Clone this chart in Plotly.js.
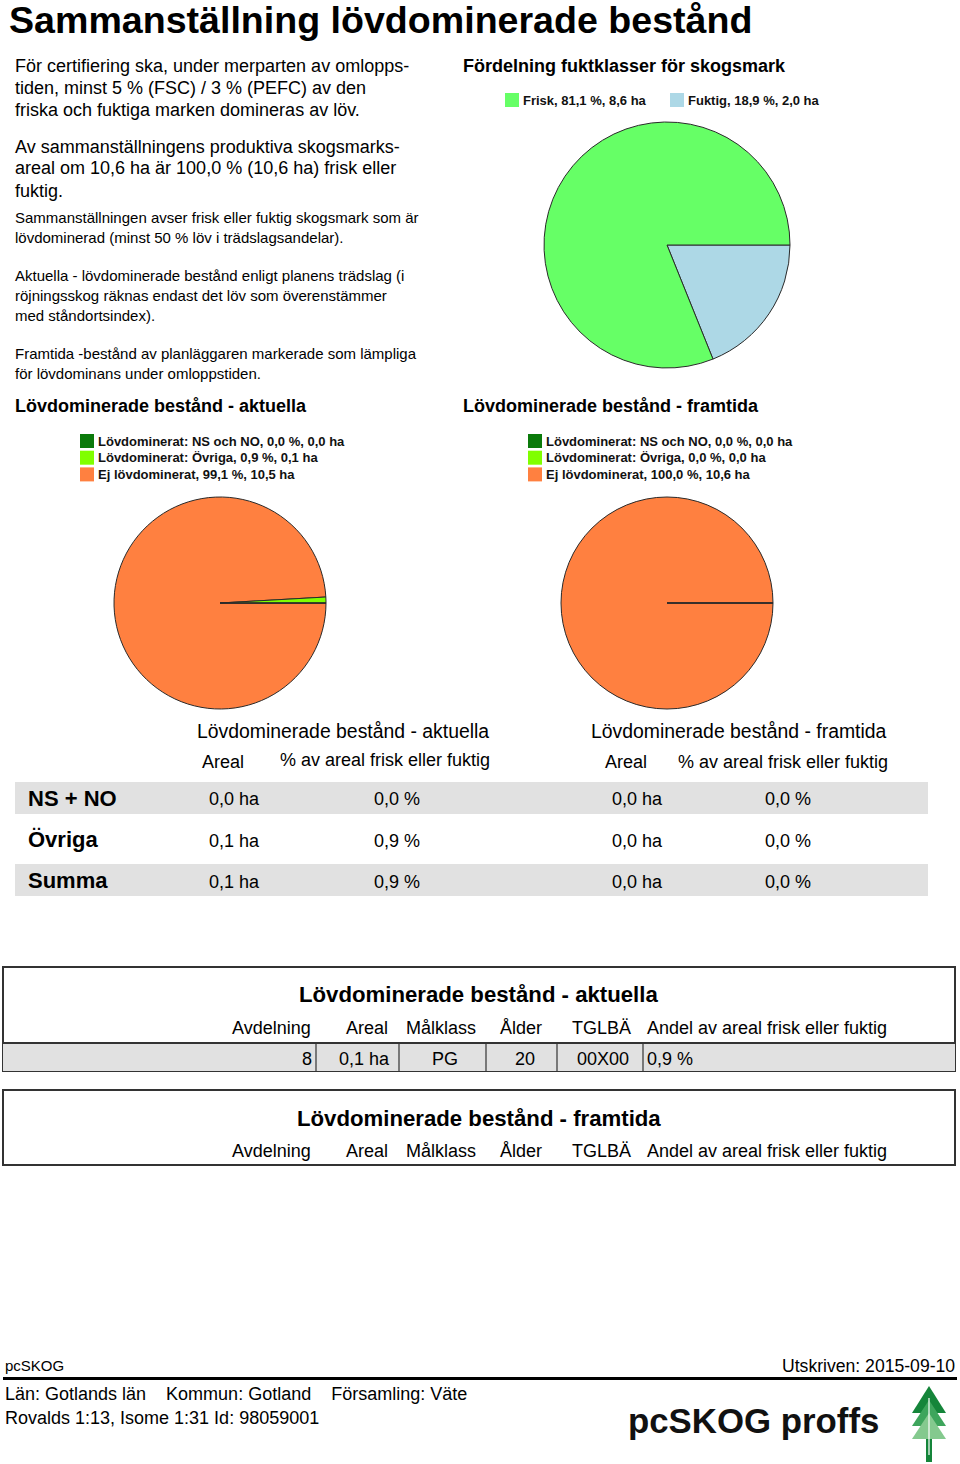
<!DOCTYPE html>
<html><head><meta charset="utf-8">
<script src="https://cdn.plot.ly/plotly-3.0.1.min.js"></script>
<style>html,body{margin:0;padding:0;background:#fff}#chart{width:960px;height:1464px}</style>
</head><body><div id="chart"></div>
<script>
const W = 960, H = 1464;
const FONT = '"Liberation Sans", Arial, Helvetica, sans-serif';

// ---- Data ----
const moistLabels = ['Frisk', 'Fuktig'];
const moistPct = [81.1, 18.9];
const moistHa = [8.6, 2.0];
const moistColors = ['#66ff66', '#add8e6'];

const leafLabels = ['Lövdominerat: NS och NO', 'Lövdominerat: Övriga', 'Ej lövdominerat'];
const leafColors = ['#0b7a0b', '#80ff00', '#ff8040'];
const currentPct = [0.0, 0.9, 99.1];
const currentHa = [0.0, 0.1, 10.5];
const futurePct = [0.0, 0.0, 100.0];
const futureHa = [0.0, 0.0, 10.6];

const summaryRows = ['NS + NO', 'Övriga', 'Summa'];
const summaryCurHa = [0.0, 0.1, 0.1];
const summaryCurPct = [0.0, 0.9, 0.9];
const summaryFutHa = [0.0, 0.0, 0.0];
const summaryFutPct = [0.0, 0.0, 0.0];

const standCols = ['Avdelning', 'Areal', 'Målklass', 'Ålder', 'TGLBÄ', 'Andel av areal frisk eller fuktig'];
const standAvd = ['8'];
const standAreal = [0.1];
const standMalklass = ['PG'];
const standAlder = ['20'];
const standTglba = ['00X00'];
const standAndel = [0.9];

// ---- helpers ----
const fmt = v => v.toFixed(1).replace('.', ',');
const annotations = [];
const shapes = [];
function txt(t, x, y, size, o = {}) {
  annotations.push({
    text: o.bold ? '<b>' + t + '</b>' : t,
    xref: 'paper', yref: 'paper', x: x / W, y: 1 - y / H,
    xanchor: o.anchor || 'left', yanchor: 'middle', showarrow: false,
    borderpad: 0, font: { family: o.family || FONT, size: size, color: o.color || '#000' }
  });
}
function rect(x0, y0, x1, y1, fill, line, lw) {
  shapes.push({ type: 'rect', xref: 'paper', yref: 'paper', x0: x0 / W, x1: x1 / W, y0: 1 - y1 / H, y1: 1 - y0 / H,
    fillcolor: fill || 'rgba(0,0,0,0)', line: { color: line || 'rgba(0,0,0,0)', width: lw || 0 }, layer: 'below' });
}
function hline(x0, x1, y, color, w) {
  shapes.push({ type: 'line', xref: 'paper', yref: 'paper', x0: x0 / W, x1: x1 / W, y0: 1 - y / H, y1: 1 - y / H, line: { color, width: w } });
}
function vline(x, y0, y1, color, w) {
  shapes.push({ type: 'line', xref: 'paper', yref: 'paper', x0: x / W, x1: x / W, y0: 1 - y0 / H, y1: 1 - y1 / H, line: { color, width: w } });
}
function poly(pts, fill) {
  const p = pts.map((q, i) => (i ? 'L' : 'M') + (q[0] / W) + ',' + (1 - q[1] / H)).join(' ') + ' Z';
  shapes.push({ type: 'path', xref: 'paper', yref: 'paper', path: p, fillcolor: fill, line: { width: 0 } });
}
// The reference lays slices out counterclockwise from 3 o'clock; Plotly equivalent:
// reversed order, clockwise, starting at 3 o'clock.
function pie(labels, values, colors, x0, x1, y0, y1) {
  const rev = a => a.slice().reverse();
  return {
    type: 'pie', labels: rev(labels), values: rev(values), sort: false, direction: 'clockwise', rotation: 90,
    marker: { colors: rev(colors), line: { color: '#2a2a2a', width: 1 } },
    textinfo: 'none', hoverinfo: 'skip', showlegend: false,
    domain: { x: [x0 / W, x1 / W], y: [1 - y1 / H, 1 - y0 / H] }
  };
}

// ---- Title and intro text ----
txt('<b>Sammanställning lövdominerade bestånd</b>', 8, 20, 37.6);
['För certifiering ska, under merparten av omlopps-', 'tiden, minst 5 % (FSC) / 3 % (PEFC) av den', 'friska och fuktiga marken domineras av löv.']
  .forEach((l, i) => txt(l, 14, 65.5 + i * 22.5, 18));
['Av sammanställningens produktiva skogsmarks-', 'areal om 10,6 ha är 100,0 % (10,6 ha) frisk eller', 'fuktig.']
  .forEach((l, i) => txt(l, 14, 146.5 + i * 22, 18));
['Sammanställningen avser frisk eller fuktig skogsmark som är', 'lövdominerad (minst 50 % löv i trädslagsandelar).']
  .forEach((l, i) => txt(l, 14, 217.5 + i * 20, 15));
['Aktuella - lövdominerade bestånd enligt planens trädslag (i', 'röjningsskog räknas endast det löv som överenstämmer', 'med ståndortsindex).']
  .forEach((l, i) => txt(l, 14, 275.5 + i * 20, 15));
['Framtida -bestånd av planläggaren markerade som lämpliga', 'för lövdominans under omloppstiden.']
  .forEach((l, i) => txt(l, 14, 353.5 + i * 20, 15));

// ---- Moisture pie ----
txt('Fördelning fuktklasser för skogsmark', 462, 66, 18, { bold: true });
const moistLegX = [505, 670];
moistLabels.forEach((lab, i) => {
  rect(moistLegX[i], 93, moistLegX[i] + 14, 107, moistColors[i]);
  txt(lab + ', ' + fmt(moistPct[i]) + ' %, ' + fmt(moistHa[i]) + ' ha', moistLegX[i] + 17, 100.5, 13, { bold: true, color: '#111' });
});

// ---- Leaf-dominated pies ----
txt('Lövdominerade bestånd - aktuella', 14, 406, 18, { bold: true });
txt('Lövdominerade bestånd - framtida', 462, 406, 18, { bold: true });
leafLabels.forEach((lab, i) => {
  const y = 441 + i * 16.7;
  rect(80, y - 7, 94, y + 7, leafColors[i]);
  txt(lab + ', ' + fmt(currentPct[i]) + ' %, ' + fmt(currentHa[i]) + ' ha', 97, y, 13, { bold: true, color: '#111' });
  rect(528, y - 7, 542, y + 7, leafColors[i]);
  txt(lab + ', ' + fmt(futurePct[i]) + ' %, ' + fmt(futureHa[i]) + ' ha', 545, y, 13, { bold: true, color: '#111' });
});

// ---- Summary table ----
txt('Lövdominerade bestånd - aktuella', 343, 731, 19.4, { anchor: 'center' });
txt('Lövdominerade bestånd - framtida', 739, 731, 19.4, { anchor: 'center' });
txt('Areal', 223, 762, 18, { anchor: 'center' });
txt('% av areal frisk eller fuktig', 385, 760, 18, { anchor: 'center' });
txt('Areal', 626, 762, 18, { anchor: 'center' });
txt('% av areal frisk eller fuktig', 783, 762, 18, { anchor: 'center' });
const rowY = [798, 839, 880];
const valY = [799, 841, 882];
rect(15, 782, 928, 814, '#e1e1e1');
rect(15, 864, 928, 896, '#e1e1e1');
summaryRows.forEach((r, i) => {
  txt(r, 27, rowY[i], 22, { bold: true });
  txt(fmt(summaryCurHa[i]) + ' ha', 208, valY[i], 18);
  txt(fmt(summaryCurPct[i]) + ' %', 373, valY[i], 18);
  txt(fmt(summaryFutHa[i]) + ' ha', 611, valY[i], 18);
  txt(fmt(summaryFutPct[i]) + ' %', 764, valY[i], 18);
});

// ---- Stand tables ----
function standHeader(y) {
  txt(standCols[0], 312, y, 18, { anchor: 'right' });
  txt(standCols[1], 389, y, 18, { anchor: 'right' });
  txt(standCols[2], 441, y, 18, { anchor: 'center' });
  txt(standCols[3], 521, y, 18, { anchor: 'center' });
  txt(standCols[4], 601, y, 18, { anchor: 'center' });
  txt(standCols[5], 646, y, 18);
}
rect(3, 967, 955, 1071, 'rgba(0,0,0,0)', '#333', 2);
txt('Lövdominerade bestånd - aktuella', 478, 995, 22.2, { anchor: 'center', bold: true });
standHeader(1027.5);
standAvd.forEach((a, i) => {
  const y0 = 1043 + i * 28, y1 = y0 + 28, yc = (y0 + y1) / 2 + 1.5;
  rect(3, y0, 955, y1, '#e1e1e1');
  hline(3, 955, y0, '#333', 2);
  [316, 399, 486, 557, 643].forEach(x => vline(x, y0, y1, '#333', 1.2));
  txt(a, 313, yc, 18, { anchor: 'right' });
  txt(fmt(standAreal[i]) + ' ha', 364, yc, 18, { anchor: 'center' });
  txt(standMalklass[i], 445, yc, 18, { anchor: 'center' });
  txt(standAlder[i], 525, yc, 18, { anchor: 'center' });
  txt(standTglba[i], 603, yc, 18, { anchor: 'center' });
  txt(fmt(standAndel[i]) + ' %', 646, yc, 18);
});
rect(3, 1090, 955, 1165, 'rgba(0,0,0,0)', '#333', 2);
txt('Lövdominerade bestånd - framtida', 479, 1118, 22.2, { anchor: 'center', bold: true });
standHeader(1150.5);

// ---- Footer ----
txt('pcSKOG', 4, 1365, 15);
txt('Utskriven: 2015-09-10', 956, 1366, 17.6, { anchor: 'right' });
hline(3, 957, 1378.5, '#000', 3);
txt('Län: Gotlands län&nbsp;&nbsp;&nbsp; Kommun: Gotland&nbsp;&nbsp;&nbsp; Församling: Väte', 4, 1394, 18);
txt('Rovalds 1:13, Isome 1:31 Id: 98059001', 4, 1418, 18);
txt('pcSKOG proffs', 627, 1420, 34.8, { bold: true, color: '#111' });
// tree logo
poly([[929, 1386], [946, 1413], [912, 1413]], '#15853a');
poly([[929, 1400], [946, 1426], [912, 1426]], '#3ea55c');
poly([[929, 1413], [946, 1439], [912, 1439]], '#84c98e');
rect(926, 1392, 932, 1462, '#15853a');
vline(929, 1398, 1455, '#ffffff', 1.2);

const data = [
  pie(moistLabels, moistPct, moistColors, 544, 790, 122, 368),
  pie(leafLabels, currentPct, leafColors, 114, 326, 497, 709),
  pie(leafLabels.map(l => l + ' '), futurePct, leafColors, 561, 773, 497, 709)
];

const layout = {
  width: W, height: H, margin: { l: 0, r: 0, t: 0, b: 0 },
  paper_bgcolor: '#fff', plot_bgcolor: '#fff', showlegend: false,
  font: { family: FONT }, annotations, shapes
};
Plotly.newPlot('chart', data, layout, { displayModeBar: false, staticPlot: true });
</script>
</body></html>
